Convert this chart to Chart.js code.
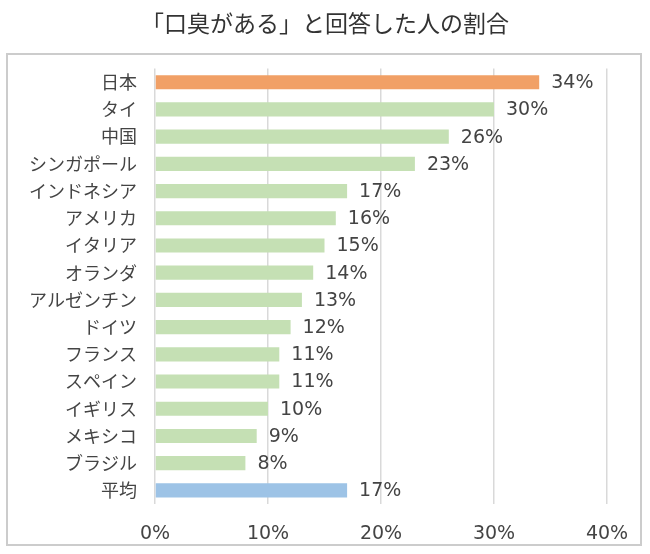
<!DOCTYPE html>
<html>
<head>
<meta charset="utf-8">
<script src="https://cdn.jsdelivr.net/npm/chart.js@4"></script>
<style>
  html, body { margin: 0; padding: 0; background: #fff; }
  #wrap { position: relative; width: 650px; height: 554px; }
</style>
</head>
<body>
<div id="wrap"><canvas id="chart"></canvas></div>
<script>
// ==================== DATA ====================
const chartTitle = '「口臭がある」と回答した人の割合';
const countries = ['日本', 'タイ', '中国', 'シンガポール', 'インドネシア', 'アメリカ', 'イタリア', 'オランダ',
  'アルゼンチン', 'ドイツ', 'フランス', 'スペイン', 'イギリス', 'メキシコ', 'ブラジル', '平均'];
const shares = [34, 30, 26, 23, 17, 16, 15, 14, 13, 12, 11, 11, 10, 9, 8, 17];
const xTicks = [0, 10, 20, 30, 40];

// ==================== STYLE ====================
const TEXT = '#444444';
const NUM_FONT = '"DejaVu Sans", Verdana, sans-serif';
const JP_FONT = '"Noto Sans CJK JP", sans-serif';

function barColor(ctx) {
  const name = countries[ctx.dataIndex];
  if (name === '日本') return '#F1A066';
  if (name === '平均') return '#9DC3E6';
  return '#C5E0B4';
}

// outer frame around the chart body
const framePlugin = {
  id: 'frame',
  beforeDraw(chart) {
    const c = chart.ctx;
    c.save();
    c.strokeStyle = '#cccccc';
    c.lineWidth = 2;
    c.strokeRect(7, 54, 634, 491);
    c.restore();
  }
};

// value labels at the end of each bar
const valueLabels = {
  id: 'valueLabels',
  afterDatasetsDraw(chart) {
    const c = chart.ctx;
    const meta = chart.getDatasetMeta(0);
    c.save();
    c.font = '19px ' + NUM_FONT;
    c.fillStyle = TEXT;
    c.textAlign = 'left';
    c.textBaseline = 'middle';
    meta.data.forEach((bar, i) => {
      c.fillText(shares[i] + '%', bar.x + 12, bar.y + 1);
    });
    c.restore();
  }
};

new Chart(document.getElementById('chart'), {
  type: 'bar',
  data: {
    labels: countries,
    datasets: [{
      data: shares,
      backgroundColor: barColor,
      borderWidth: 0,
      barPercentage: 0.52,
      categoryPercentage: 1
    }]
  },
  options: {
    indexAxis: 'y',
    responsive: true,
    maintainAspectRatio: false,
    animation: false,
    layout: { padding: { left: 0, right: 0, top: 0, bottom: 10 } },
    plugins: {
      legend: { display: false },
      tooltip: { enabled: false },
      title: {
        display: true,
        text: chartTitle,
        color: '#333333',
        font: { family: JP_FONT, size: 23, weight: 'normal', lineHeight: 1.2 },
        padding: { top: 9, bottom: 32 }
      }
    },
    scales: {
      x: {
        min: xTicks[0],
        max: xTicks[xTicks.length - 1],
        afterBuildTicks: (scale) => { scale.ticks = xTicks.map(v => ({ value: v })); },
        afterFit: (scale) => { scale.height = 40; },
        grid: { color: '#d9d9d9', lineWidth: 1.5, drawTicks: false },
        border: { display: false },
        ticks: {
          color: TEXT,
          padding: 19,
          font: { family: NUM_FONT, size: 19 },
          callback: (v) => v + '%'
        }
      },
      y: {
        afterFit: (scale) => { scale.width = 155; },
        grid: { display: false, drawTicks: false },
        border: { display: false },
        ticks: {
          color: TEXT,
          padding: 18,
          autoSkip: false,
          font: { family: JP_FONT, size: 18 }
        }
      },
      // empty spacer on the right so the title stays centred on the page
      spacer: {
        type: 'linear',
        position: 'right',
        afterFit: (scale) => { scale.width = 43; },
        grid: { display: false, drawTicks: false },
        border: { display: false },
        ticks: { display: false }
      }
    }
  },
  plugins: [framePlugin, valueLabels]
});
</script>
</body>
</html>
